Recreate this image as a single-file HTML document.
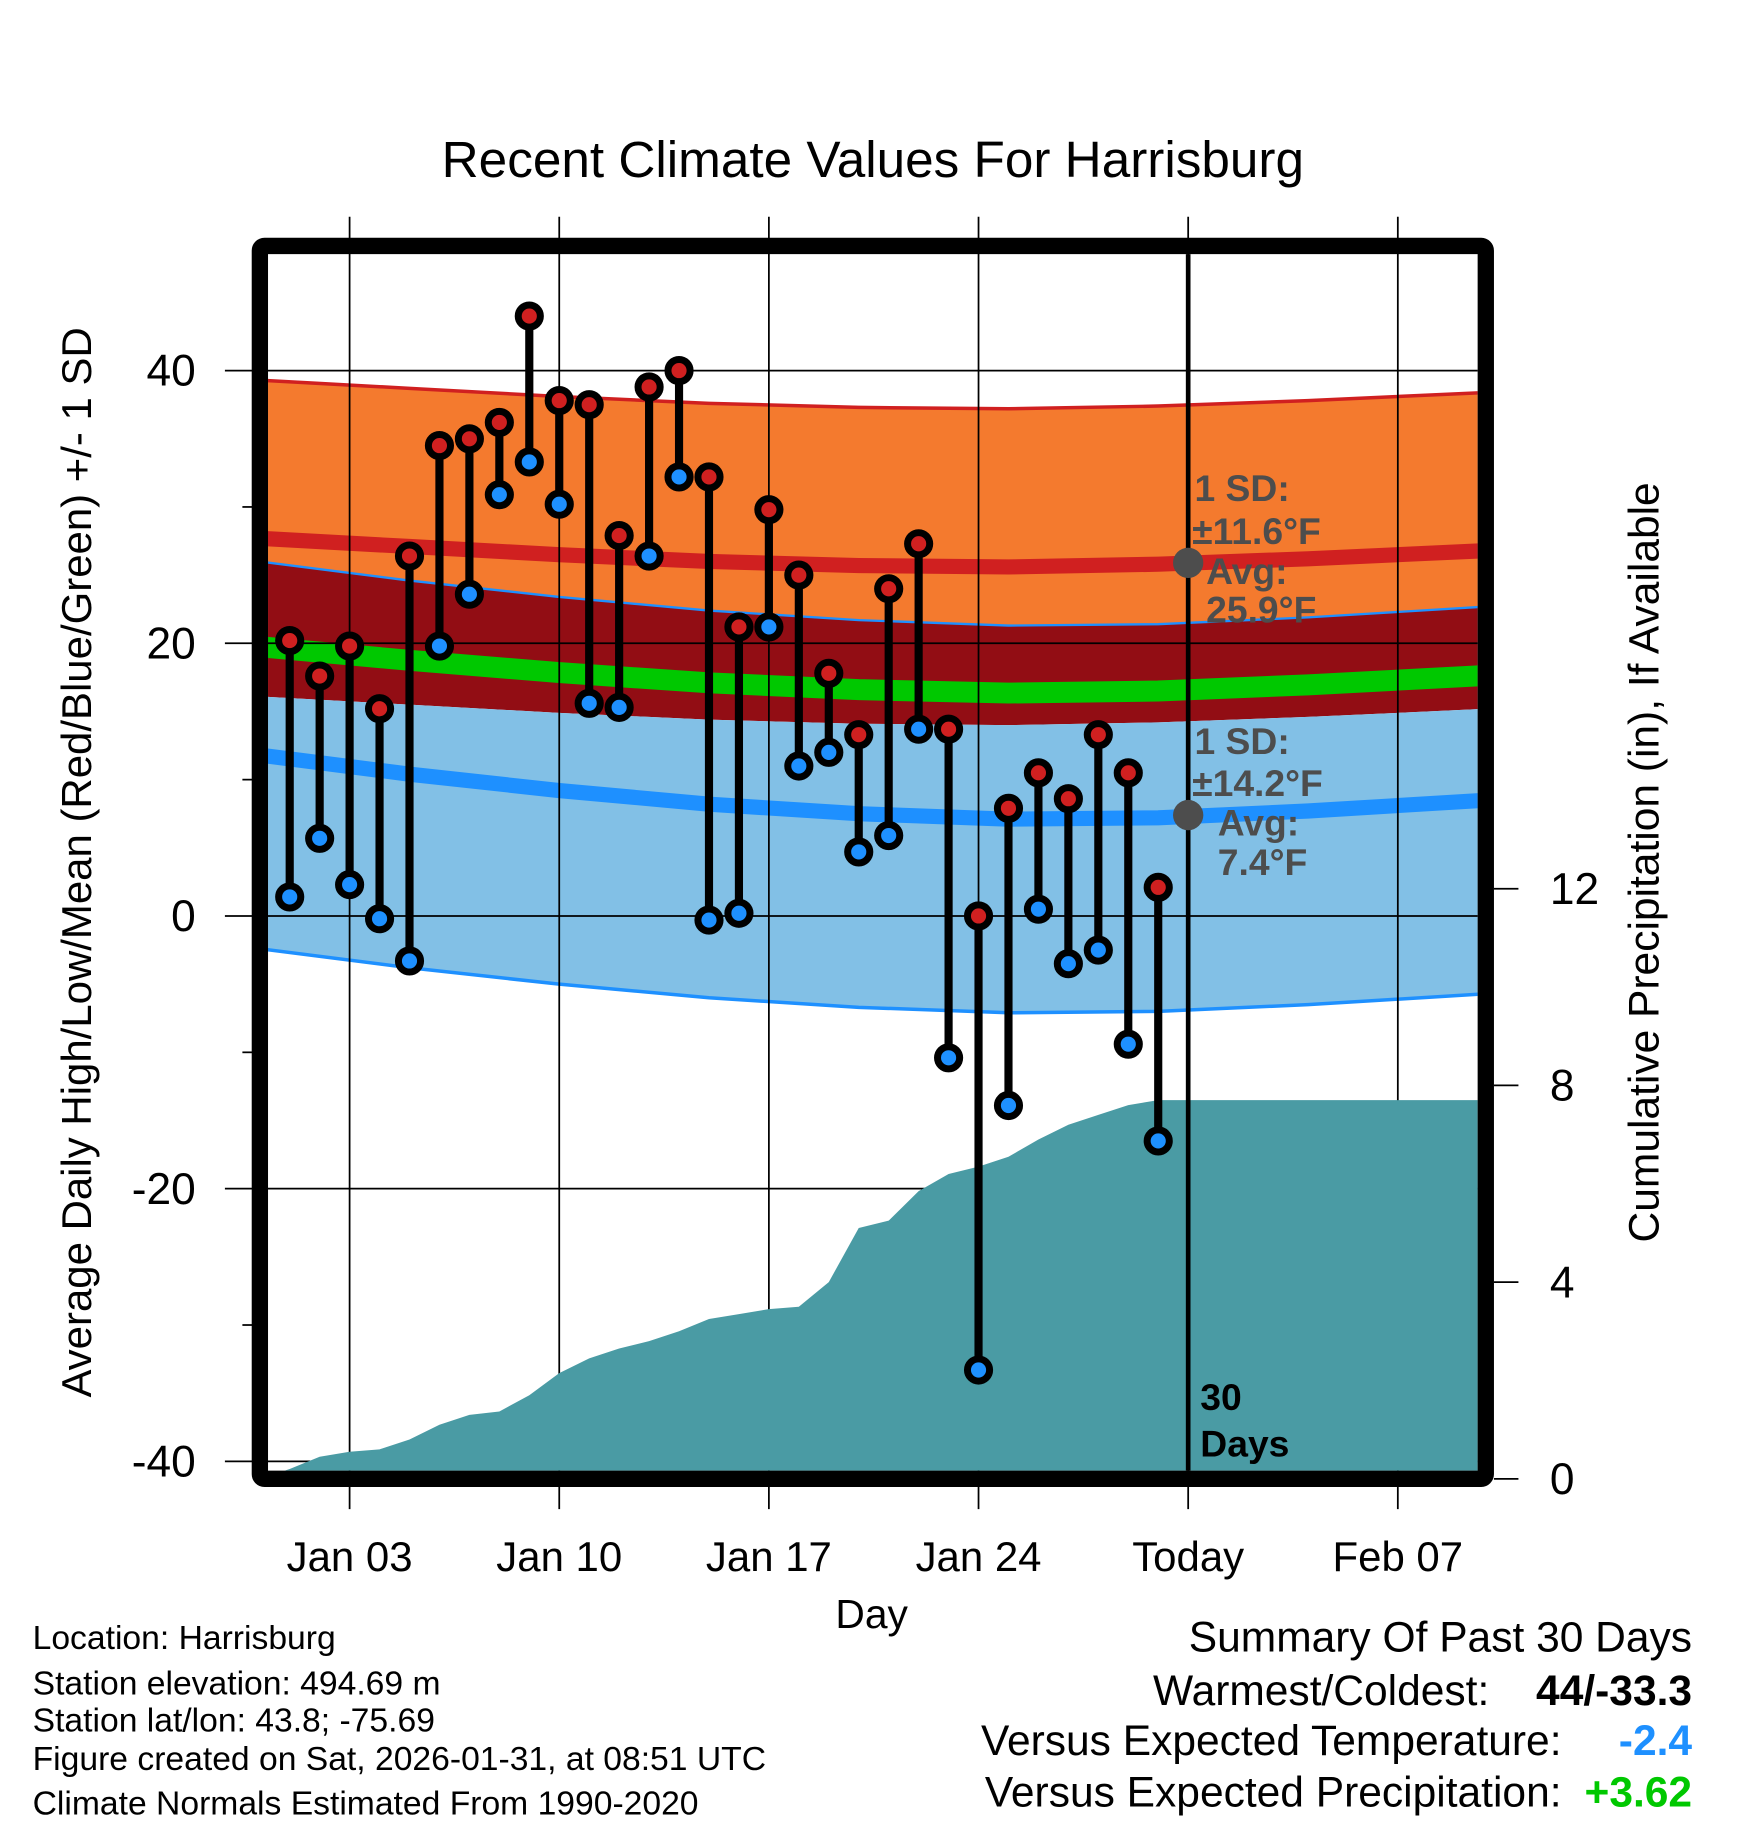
<!DOCTYPE html>
<html><head><meta charset="utf-8">
<style>
html,body{margin:0;padding:0;background:#fff;}
svg{display:block;font-family:"Liberation Sans",Arial,sans-serif;}
</style></head>
<body>
<svg id="chart" width="1748" height="1828" viewBox="0 0 1500 1568.6" xmlns="http://www.w3.org/2000/svg">
<defs><clipPath id="plotclip"><rect x="230" y="218" width="1038" height="1044"/></clipPath></defs>
<g id="bands" clip-path="url(#plotclip)"></g>
<g id="grid"></g>
<g id="precip" clip-path="url(#plotclip)"></g>
<g id="today"></g>
<g id="marks"></g>
<rect x="223" y="211" width="1052" height="1058" fill="none" stroke="#000" stroke-width="14" rx="4"/>
<g id="axes"></g>
<text x="749" y="152" font-size="44" text-anchor="middle">Recent Climate Values For Harrisburg</text>
<text x="748" y="1397" font-size="35" text-anchor="middle">Day</text>
<text transform="translate(78,740) rotate(-90)" font-size="36" text-anchor="middle">Average Daily High/Low/Mean (Red/Blue/Green) +/- 1 SD</text>
<text transform="translate(1423,740) rotate(-90)" font-size="36.5" text-anchor="middle">Cumulative Precipitation (in), If Available</text>
<g font-size="28.9">
<text x="28" y="1415">Location: Harrisburg</text>
<text x="28" y="1454">Station elevation: 494.69 m</text>
<text x="28" y="1486">Station lat/lon: 43.8; -75.69</text>
<text x="28" y="1519">Figure created on Sat, 2026-01-31, at 08:51 UTC</text>
<text x="28" y="1557">Climate Normals Estimated From 1990-2020</text>
</g>
<g font-size="36.5" text-anchor="end">
<text x="1452" y="1417">Summary Of Past 30 Days</text>
<text x="1278" y="1463">Warmest/Coldest:</text>
<text x="1452" y="1463" font-weight="bold">44/-33.3</text>
<text x="1340" y="1506">Versus Expected Temperature:</text>
<text x="1452" y="1506" font-weight="bold" fill="#1e90ff">-2.4</text>
<text x="1340" y="1550">Versus Expected Precipitation:</text>
<text x="1452" y="1550" font-weight="bold" fill="#00c800">+3.62</text>
</g>
</svg>
<script>
const days = [1,2,3,4,5,6,7,8,9,10,11,12,13,14,15,16,17,18,19,20,21,22,23,24,25,26,27,28,29,30];
const highs = [20.2,17.6,19.8,15.2,26.4,34.5,35.0,36.2,44.0,37.8,37.5,27.9,38.8,40.0,32.2,21.2,29.8,25.0,17.8,13.3,24.0,27.3,13.7,0.0,7.9,10.5,8.6,13.3,10.5,2.1];
const lows = [1.4,5.7,2.3,-0.2,-3.3,19.8,23.6,30.9,33.3,30.2,15.6,15.3,26.4,32.2,-0.3,0.2,21.2,11.0,12.0,4.7,5.9,13.7,-10.4,-33.3,-13.9,0.5,-3.5,-2.5,-9.4,-16.5];
const precip = [0.2,0.45,0.55,0.6,0.8,1.1,1.3,1.37,1.7,2.15,2.45,2.65,2.8,3.0,3.25,3.35,3.45,3.5,4.0,5.1,5.25,5.85,6.2,6.35,6.55,6.9,7.2,7.4,7.6,7.7];
const normDays = [0,5,10,15,20,25,30,35,41];
const normHigh = [27.7,27.1,26.5,26.0,25.7,25.6,25.8,26.2,26.8];
const normLow = [11.8,10.4,9.2,8.2,7.5,7.1,7.2,7.7,8.5];
const sdHigh = 11.6, sdLow = 14.2;
const yTicks = [-40,-20,0,20,40];
const y2Ticks = [0,4,8,12];
const xTickDays = [3,10,17,24,31,38];
const xTickLabels = ["Jan 03","Jan 10","Jan 17","Jan 24","Today","Feb 07"];
const todayDay = 31;

const NS="http://www.w3.org/2000/svg";
const X = d => 248.6 + (d-1)*25.7;
const Y = v => 786 - v*11.7;
const Y2 = p => 1269 - p*42.2;
function mk(tag, attrs, parent){const e=document.createElementNS(NS,tag);for(const k in attrs)e.setAttribute(k,attrs[k]);parent.appendChild(e);return e;}
function line(vals, off){return normDays.map((d,i)=>X(d)+','+Y(vals[i]+off)).join(' ');}
function band(a,oa,b,ob){
  const top=normDays.map((d,i)=>X(d)+','+Y(a[i]+oa));
  const bot=normDays.map((d,i)=>X(d)+','+Y(b[i]+ob)).reverse();
  return top.concat(bot).join(' ');
}
const bands=document.getElementById('bands');
let e;
e=mk('polygon',{points:band(normHigh,sdHigh,normLow,sdLow),fill:'#f47a2e'},bands);


e=mk('polygon',{points:band(normLow,sdLow,normHigh,-sdHigh),fill:'#920d14'},bands);


e=mk('polygon',{points:band(normHigh,-sdHigh,normLow,-sdLow),fill:'#82c0e6'},bands);


e=mk('polyline',{points:line(normHigh,sdHigh),fill:'none',stroke:'#d02020','stroke-width':3},bands);


e=mk('polyline',{points:line(normLow,sdLow),fill:'none',stroke:'#1e90ff','stroke-width':2},bands);


e=mk('polyline',{points:line(normLow,-sdLow),fill:'none',stroke:'#1e90ff','stroke-width':3},bands);


e=mk('polyline',{points:line(normHigh,0),fill:'none',stroke:'#d02020','stroke-width':13},bands);


e=mk('polyline',{points:line(normLow,0),fill:'none',stroke:'#1e90ff','stroke-width':13},bands);


const meanVals=normHigh.map((h,i)=>(h+normLow[i])/2);
e=mk('polyline',{points:line(meanVals,0),fill:'none',stroke:'#00c800','stroke-width':18},bands);



const grid=document.getElementById('grid');
yTicks.forEach(v=>{e=mk('line',{x1:193,x2:1268,y1:Y(v),y2:Y(v),stroke:'#000','stroke-width':1.5},grid);

});
[-30,-10,10,30].forEach(v=>{e=mk('line',{x1:208,x2:218,y1:Y(v),y2:Y(v),stroke:'#000','stroke-width':1.5},grid);

});
xTickDays.forEach(d=>{e=mk('line',{x1:X(d),x2:X(d),y1:186,y2:1295,stroke:'#000','stroke-width':1.5},grid);

});

const pr=document.getElementById('precip');
let pts=[X(0)+','+Y2(0)];
days.forEach((d,i)=>pts.push(X(d)+','+Y2(precip[i])));
pts.push(1275+','+Y2(precip[precip.length-1]));
pts.push(1275+','+Y2(0));
e=mk('polygon',{points:pts.join(' '),fill:'#4a9ba4'},pr);



const td=document.getElementById('today');
e=mk('line',{x1:X(todayDay),x2:X(todayDay),y1:218,y2:1262,stroke:'#000','stroke-width':4},td);


const tHigh=25.9, tLow=7.4;
e=mk('circle',{cx:X(todayDay),cy:Y(tHigh),r:13,fill:'#4d4d4d'},td);


e=mk('circle',{cx:X(todayDay),cy:Y(tLow),r:13,fill:'#4d4d4d'},td);


function lbl(x,y,t,fill,name){const el=mk('text',{x:x,y:y,'font-size':32,'font-weight':'bold',fill:fill},td);el.textContent=t;

}
const g='#4d4d4d';
lbl(1025,430,'1 SD:',g,'high-sd-label');
lbl(1023,467,'±11.6°F',g,'high-sd-value');
lbl(1035,501,'Avg:',g,'high-avg-label');
lbl(1035,534,'25.9°F',g,'high-avg-value');
lbl(1025,647,'1 SD:',g,'low-sd-label');
lbl(1023,683,'±14.2°F',g,'low-sd-value');
lbl(1045,717,'Avg:',g,'low-avg-label');
lbl(1045,751,'7.4°F',g,'low-avg-value');
lbl(1030,1210,'30','#000','days-count');
lbl(1030,1250,'Days','#000','days-label');

const mg=document.getElementById('marks');
days.forEach((d,i)=>{
  const x=X(d);
  e=mk('line',{x1:x,x2:x,y1:Y(highs[i]),y2:Y(lows[i]),stroke:'#000','stroke-width':7},mg);
  
  
});
days.forEach((d,i)=>{
  const x=X(d);
  e=mk('circle',{cx:x,cy:Y(lows[i]),r:9.5,fill:'#1e90ff',stroke:'#000','stroke-width':6},mg);
  
  
  e=mk('circle',{cx:x,cy:Y(highs[i]),r:9.5,fill:'#d02020',stroke:'#000','stroke-width':6},mg);
  
  
});

const ax=document.getElementById('axes');
yTicks.forEach(v=>{const t=mk('text',{x:168,y:Y(v)+13,'font-size':38,'text-anchor':'end'},ax);t.textContent=v;

});
y2Ticks.forEach(p=>{
  e=mk('line',{x1:1282,x2:1303,y1:Y2(p),y2:Y2(p),stroke:'#000','stroke-width':1.5},ax);
  
  
  const t=mk('text',{x:1330,y:Y2(p)+13,'font-size':38},ax);t.textContent=p;
  
  
});
xTickDays.forEach((d,i)=>{const t=mk('text',{x:X(d),y:1348,'font-size':36,'text-anchor':'middle'},ax);t.textContent=xTickLabels[i];

});
</script>
</body></html>
